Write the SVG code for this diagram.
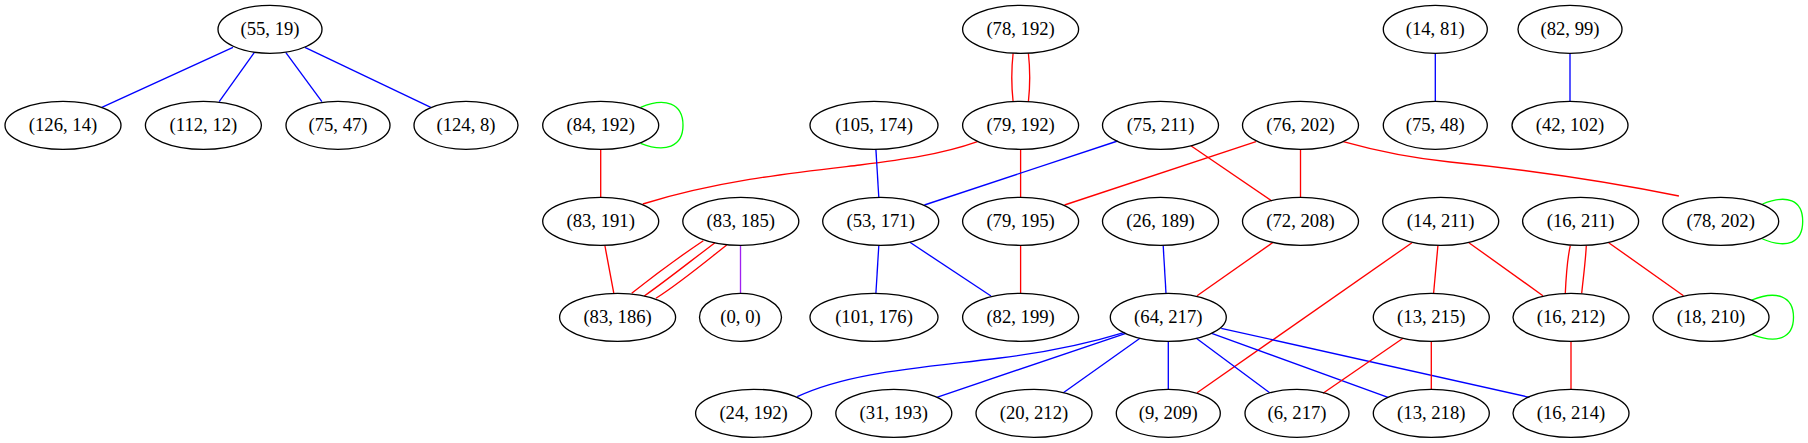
<svg xmlns="http://www.w3.org/2000/svg" width="1808" height="443" viewBox="0 0 1808 443">
<style>
.n ellipse{fill:none;stroke:#000;stroke-width:1.33}
.n text{font-family:'Liberation Serif','Times New Roman',serif;font-size:18.67px;text-anchor:middle;fill:#000}
#edges path{fill:none;stroke-width:1.33}
.b{stroke:#0000ff}.r{stroke:#ff0000}.g{stroke:#00ff00}.p{stroke:#a020f0}
</style>
<rect width="1808" height="443" fill="#fff"/>
<g id="edges">
<path class="b" d="M233,47.3 L101.8,107.3"/>
<path class="b" d="M254.4,52.3 L219.2,101.7"/>
<path class="b" d="M285.7,52.3 L321.9,101.7"/>
<path class="b" d="M304.9,47.3 L430.8,107.3"/>
<path class="b" d="M1435.3,53.3 L1435.3,101.3"/>
<path class="b" d="M1570,53.3 L1570,101.3"/>
<path class="r" d="M1013.1,53.3 C1011.5,68 1011.5,87 1013.1,101.7"/>
<path class="r" d="M1028.4,53.3 C1030,68 1030,87 1028.4,101.7"/>
<path class="g" d="M640.6,107.3 C665,97 683,103 683,125.3 C683,147 665,153 640.6,143.3"/>
<path class="r" d="M600.7,149.3 L600.7,197.3"/>
<path class="r" d="M977.5,141.7 C940,155 900,160 860,165 C800,172 720,180 642.8,204"/>
<path class="b" d="M875.9,149.3 L878.8,197.3"/>
<path class="r" d="M1020.6,149.3 L1020.6,197.3"/>
<path class="b" d="M1117.6,141 L924.4,205"/>
<path class="r" d="M1190.9,145.7 L1271.8,201"/>
<path class="r" d="M1256,141.7 L1064.5,205"/>
<path class="r" d="M1300.5,149.3 L1300.5,197.3"/>
<path class="r" d="M1343.2,141.7 C1380,152 1410,158 1450,162 C1530,170 1600,180 1678.9,196"/>
<path class="g" d="M1762.5,204 C1787,194 1802.7,200 1802.7,221.3 C1802.7,243 1787,249 1762.5,239"/>
<path class="r" d="M604.9,245.7 L613.8,293.3"/>
<path class="r" d="M703.3,240.7 C682,255 656,274 631.7,293.3"/>
<path class="r" d="M715,242.7 C692,260 667,280 644.3,296"/>
<path class="r" d="M726.7,245 C704,263 680,283 656,298.3"/>
<path class="p" d="M740.5,245.3 L740.5,293.3"/>
<path class="b" d="M878.8,245.7 L875.9,293.3"/>
<path class="b" d="M909.9,242.3 L991,296"/>
<path class="r" d="M1020.6,245.3 L1020.6,293.3"/>
<path class="b" d="M1163.2,245.7 L1166,293.3"/>
<path class="r" d="M1272.6,242.7 L1197.1,295.7"/>
<path class="r" d="M1412,242.7 L1197.1,392.7"/>
<path class="r" d="M1437.9,245.7 L1433.6,293.3"/>
<path class="r" d="M1468.9,242.7 L1542.9,295.7"/>
<path class="r" d="M1570.3,245.7 C1567,260 1566,278 1565.3,293.3"/>
<path class="r" d="M1586.3,245.7 C1585.5,262 1583,280 1581.7,293.3"/>
<path class="r" d="M1608.7,242.7 L1683.5,295.7"/>
<path class="g" d="M1751.8,300 C1776,290 1793.5,296 1793.5,317.3 C1793.5,339 1776,344 1751.8,334.3"/>
<path class="b" d="M1124.6,332.3 C1080,346 1040,353 1000,358 C920,368 850,372 797.2,396.7"/>
<path class="b" d="M1125.9,333.3 L936.8,397.3"/>
<path class="b" d="M1140,338.3 L1063.3,392.7"/>
<path class="b" d="M1168.3,341.3 L1168.3,389.3"/>
<path class="b" d="M1196.3,338.3 L1269.7,392.7"/>
<path class="b" d="M1211.7,333.3 L1388,397.3"/>
<path class="b" d="M1221.2,328.3 L1529.4,397.3"/>
<path class="r" d="M1403,338.3 L1323,393.3"/>
<path class="r" d="M1431.3,341.3 L1431.3,389.3"/>
<path class="r" d="M1571,341.3 L1571,389.3"/>
</g>
<g font-family="'Liberation Serif', 'Times New Roman', serif">
<g id="n55_19" class="n"><ellipse cx="270" cy="29.3" rx="52" ry="24"/><text x="270" y="35.3">(55, 19)</text></g>
<g id="n78_192" class="n"><ellipse cx="1020.6" cy="29.3" rx="58" ry="24"/><text x="1020.6" y="35.3">(78, 192)</text></g>
<g id="n14_81" class="n"><ellipse cx="1435.3" cy="29.3" rx="52" ry="24"/><text x="1435.3" y="35.3">(14, 81)</text></g>
<g id="n82_99" class="n"><ellipse cx="1570" cy="29.3" rx="52" ry="24"/><text x="1570" y="35.3">(82, 99)</text></g>
<g id="n126_14" class="n"><ellipse cx="63" cy="125.3" rx="58" ry="24"/><text x="63" y="131.3">(126, 14)</text></g>
<g id="n112_12" class="n"><ellipse cx="203.4" cy="125.3" rx="58" ry="24"/><text x="203.4" y="131.3">(112, 12)</text></g>
<g id="n75_47" class="n"><ellipse cx="338" cy="125.3" rx="52" ry="24"/><text x="338" y="131.3">(75, 47)</text></g>
<g id="n124_8" class="n"><ellipse cx="466" cy="125.3" rx="52" ry="24"/><text x="466" y="131.3">(124, 8)</text></g>
<g id="n84_192" class="n"><ellipse cx="600.7" cy="125.3" rx="58" ry="24"/><text x="600.7" y="131.3">(84, 192)</text></g>
<g id="n105_174" class="n"><ellipse cx="874" cy="125.3" rx="64" ry="24"/><text x="874" y="131.3">(105, 174)</text></g>
<g id="n79_192" class="n"><ellipse cx="1020.6" cy="125.3" rx="58" ry="24"/><text x="1020.6" y="131.3">(79, 192)</text></g>
<g id="n75_211" class="n"><ellipse cx="1160.5" cy="125.3" rx="58" ry="24"/><text x="1160.5" y="131.3">(75, 211)</text></g>
<g id="n76_202" class="n"><ellipse cx="1300.5" cy="125.3" rx="58" ry="24"/><text x="1300.5" y="131.3">(76, 202)</text></g>
<g id="n75_48" class="n"><ellipse cx="1435.3" cy="125.3" rx="52" ry="24"/><text x="1435.3" y="131.3">(75, 48)</text></g>
<g id="n42_102" class="n"><ellipse cx="1570" cy="125.3" rx="58" ry="24"/><text x="1570" y="131.3">(42, 102)</text></g>
<g id="n83_191" class="n"><ellipse cx="600.7" cy="221.3" rx="58" ry="24"/><text x="600.7" y="227.3">(83, 191)</text></g>
<g id="n83_185" class="n"><ellipse cx="740.8" cy="221.3" rx="58" ry="24"/><text x="740.8" y="227.3">(83, 185)</text></g>
<g id="n53_171" class="n"><ellipse cx="880.7" cy="221.3" rx="58" ry="24"/><text x="880.7" y="227.3">(53, 171)</text></g>
<g id="n79_195" class="n"><ellipse cx="1020.6" cy="221.3" rx="58" ry="24"/><text x="1020.6" y="227.3">(79, 195)</text></g>
<g id="n26_189" class="n"><ellipse cx="1160.5" cy="221.3" rx="58" ry="24"/><text x="1160.5" y="227.3">(26, 189)</text></g>
<g id="n72_208" class="n"><ellipse cx="1300.5" cy="221.3" rx="58" ry="24"/><text x="1300.5" y="227.3">(72, 208)</text></g>
<g id="n14_211" class="n"><ellipse cx="1440.7" cy="221.3" rx="58" ry="24"/><text x="1440.7" y="227.3">(14, 211)</text></g>
<g id="n16_211" class="n"><ellipse cx="1580.6" cy="221.3" rx="58" ry="24"/><text x="1580.6" y="227.3">(16, 211)</text></g>
<g id="n78_202" class="n"><ellipse cx="1720.7" cy="221.3" rx="58" ry="24"/><text x="1720.7" y="227.3">(78, 202)</text></g>
<g id="n83_186" class="n"><ellipse cx="617.6" cy="317.3" rx="58" ry="24"/><text x="617.6" y="323.3">(83, 186)</text></g>
<g id="n0_0" class="n"><ellipse cx="740.5" cy="317.3" rx="41" ry="24"/><text x="740.5" y="323.3">(0, 0)</text></g>
<g id="n101_176" class="n"><ellipse cx="874" cy="317.3" rx="64" ry="24"/><text x="874" y="323.3">(101, 176)</text></g>
<g id="n82_199" class="n"><ellipse cx="1020.6" cy="317.3" rx="58" ry="24"/><text x="1020.6" y="323.3">(82, 199)</text></g>
<g id="n64_217" class="n"><ellipse cx="1168.3" cy="317.3" rx="58" ry="24"/><text x="1168.3" y="323.3">(64, 217)</text></g>
<g id="n13_215" class="n"><ellipse cx="1431.3" cy="317.3" rx="58" ry="24"/><text x="1431.3" y="323.3">(13, 215)</text></g>
<g id="n16_212" class="n"><ellipse cx="1571" cy="317.3" rx="58" ry="24"/><text x="1571" y="323.3">(16, 212)</text></g>
<g id="n18_210" class="n"><ellipse cx="1711" cy="317.3" rx="58" ry="24"/><text x="1711" y="323.3">(18, 210)</text></g>
<g id="n24_192" class="n"><ellipse cx="753.6" cy="413.3" rx="58" ry="24"/><text x="753.6" y="419.3">(24, 192)</text></g>
<g id="n31_193" class="n"><ellipse cx="893.8" cy="413.3" rx="58" ry="24"/><text x="893.8" y="419.3">(31, 193)</text></g>
<g id="n20_212" class="n"><ellipse cx="1034" cy="413.3" rx="58" ry="24"/><text x="1034" y="419.3">(20, 212)</text></g>
<g id="n9_209" class="n"><ellipse cx="1168.3" cy="413.3" rx="52" ry="24"/><text x="1168.3" y="419.3">(9, 209)</text></g>
<g id="n6_217" class="n"><ellipse cx="1297" cy="413.3" rx="52" ry="24"/><text x="1297" y="419.3">(6, 217)</text></g>
<g id="n13_218" class="n"><ellipse cx="1431.3" cy="413.3" rx="58" ry="24"/><text x="1431.3" y="419.3">(13, 218)</text></g>
<g id="n16_214" class="n"><ellipse cx="1571" cy="413.3" rx="58" ry="24"/><text x="1571" y="419.3">(16, 214)</text></g>
</g>
</svg>
